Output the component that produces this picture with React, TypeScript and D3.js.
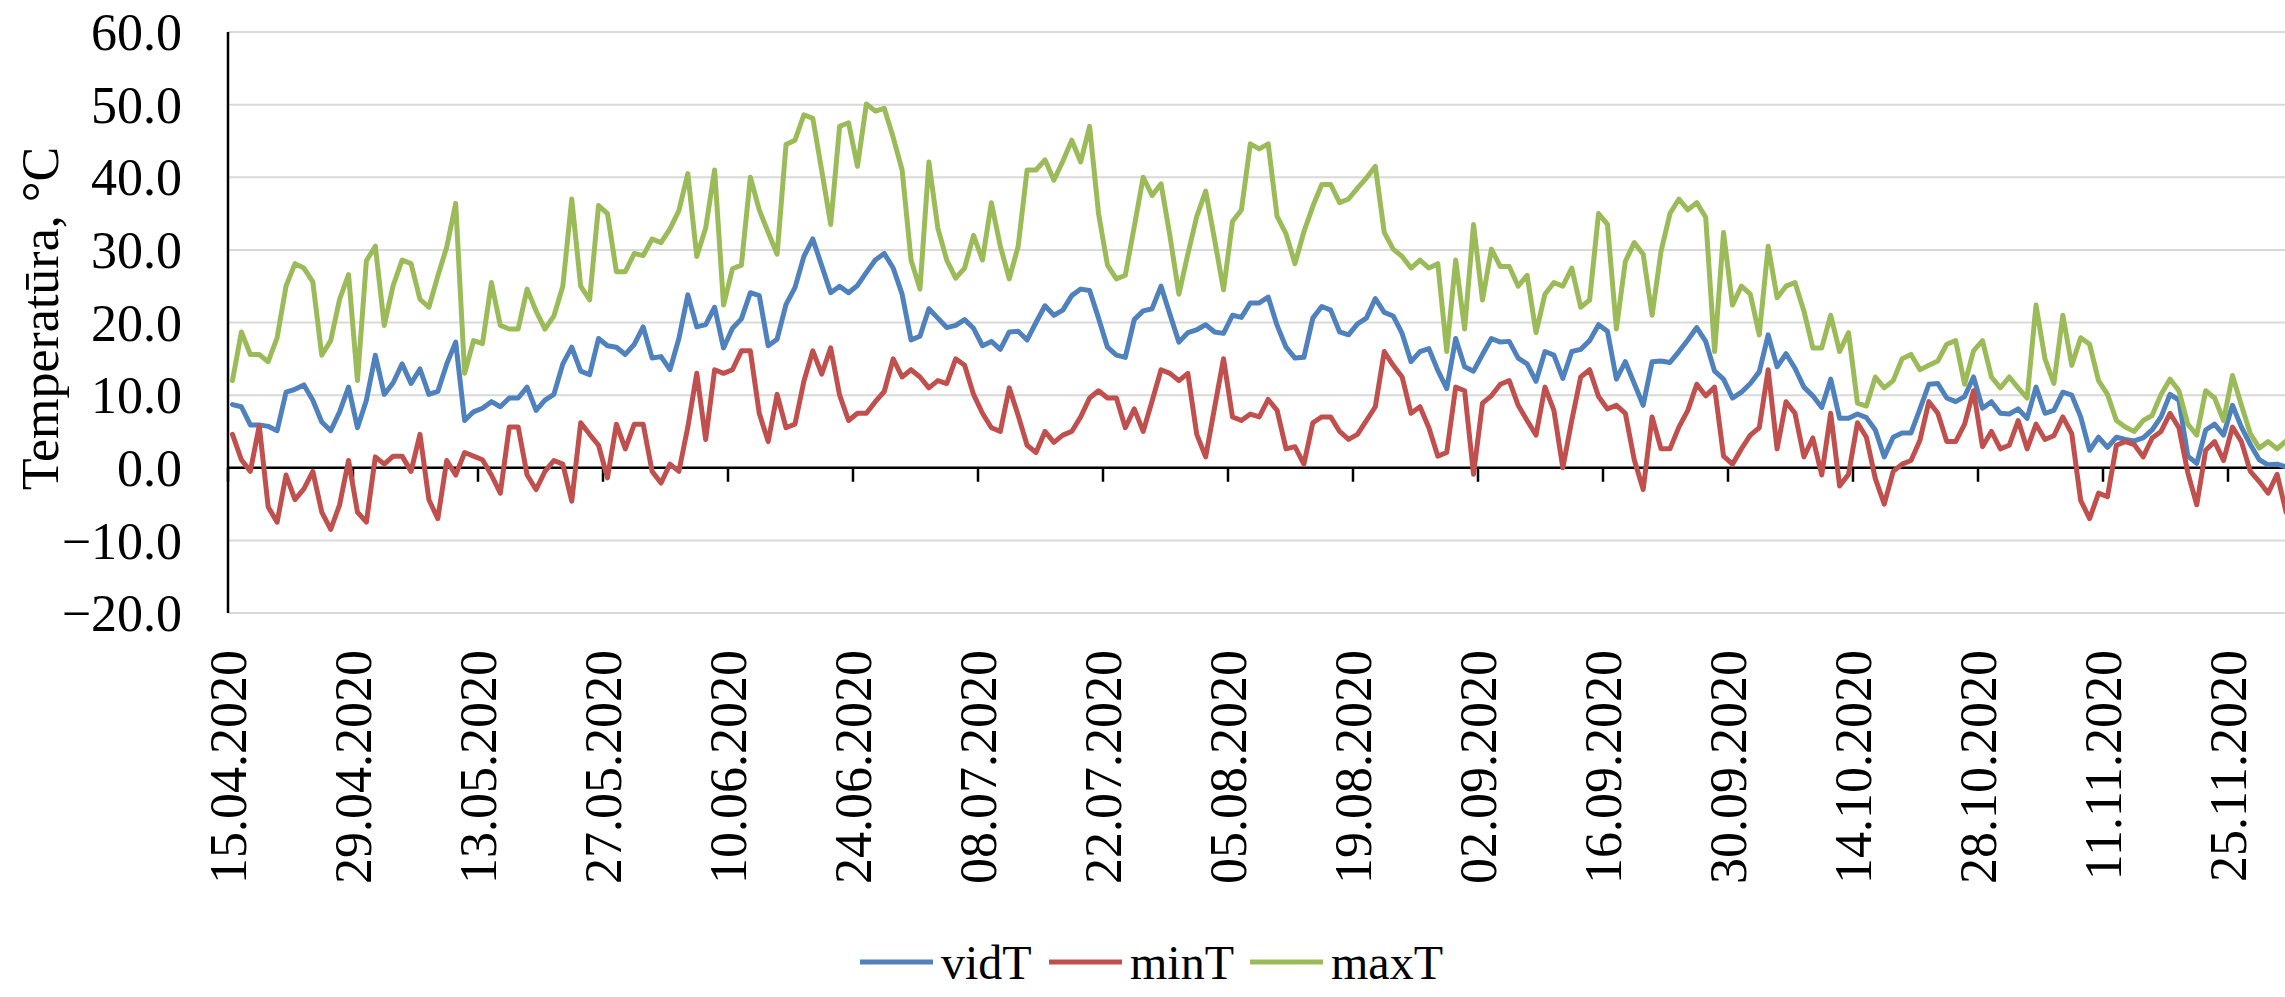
import React from "react";
import * as d3 from "d3";

// daily temperatures, one value per day from the start date
const startDate = "15.04.2020";

const tickLabels = [
  "15.04.2020", "29.04.2020", "13.05.2020", "27.05.2020", "10.06.2020", "24.06.2020",
  "08.07.2020", "22.07.2020", "05.08.2020", "19.08.2020", "02.09.2020", "16.09.2020",
  "30.09.2020", "14.10.2020", "28.10.2020", "11.11.2020", "25.11.2020",
];

const yTicks = [60, 50, 40, 30, 20, 10, 0, -10, -20];

const vidT = [
  8.7, 8.4, 5.9, 5.9, 5.7, 5.1, 10.4, 10.8, 11.4, 9.3,
  6.3, 5.1, 7.7, 11.1, 5.5, 9.3, 15.5, 10.1, 11.7, 14.3,
  11.6, 13.6, 10.1, 10.5, 14.3, 17.3, 6.5, 7.7, 8.2, 9.1,
  8.4, 9.6, 9.6, 11.1, 7.9, 9.3, 10.1, 14.3, 16.6, 13.3,
  12.8, 17.8, 16.8, 16.6, 15.6, 17.0, 19.4, 15.1, 15.3, 13.5,
  17.8, 23.8, 19.4, 19.7, 22.1, 16.5, 19.2, 20.5, 24.1, 23.7,
  16.8, 17.7, 22.5, 24.8, 29.1, 31.5, 27.8, 24.1, 25.0, 24.1,
  25.1, 26.9, 28.6, 29.5, 27.5, 23.9, 17.6, 18.1, 21.9, 20.6,
  19.3, 19.6, 20.4, 19.2, 16.8, 17.4, 16.3, 18.7, 18.8, 17.6,
  20.0, 22.3, 21.0, 21.7, 23.7, 24.6, 24.4, 20.6, 16.6, 15.5,
  15.2, 20.4, 21.6, 21.9, 25.0, 21.1, 17.3, 18.6, 19.0, 19.7,
  18.7, 18.5, 21.0, 20.7, 22.7, 22.7, 23.5, 19.6, 16.6, 15.1,
  15.2, 20.6, 22.2, 21.7, 18.7, 18.3, 19.8, 20.6, 23.3, 21.4,
  20.9, 18.5, 14.6, 16.0, 16.4, 13.4, 10.9, 17.8, 13.9, 13.3,
  15.6, 17.8, 17.3, 17.4, 15.1, 14.3, 11.9, 16.0, 15.5, 12.3,
  16.0, 16.3, 17.5, 19.7, 18.8, 12.2, 14.6, 11.6, 8.6, 14.6,
  14.7, 14.5, 16.0, 17.6, 19.3, 17.4, 13.3, 12.2, 9.6, 10.4,
  11.6, 13.2, 18.3, 13.9, 15.7, 13.7, 11.1, 9.9, 8.3, 12.2,
  6.8, 6.8, 7.4, 6.9, 5.2, 1.5, 4.2, 4.8, 4.8, 8.1,
  11.5, 11.6, 9.6, 9.1, 9.8, 12.5, 8.2, 9.1, 7.5, 7.4,
  8.1, 6.8, 11.1, 7.5, 7.9, 10.4, 10.0, 7.0, 2.4, 4.2,
  2.8, 4.2, 3.9, 3.7, 4.1, 5.2, 7.0, 10.1, 9.3, 1.6,
  0.6, 5.2, 6.0, 4.5, 8.6, 5.6, 3.2, 1.1, 0.4, 0.5,
  0.1,
];

const minT = [
  4.6, 1.1, -0.5, 5.8, -5.4, -7.5, -1.0, -4.4, -2.9, -0.5,
  -6.1, -8.5, -5.1, 1.0, -6.1, -7.5, 1.5, 0.5, 1.6, 1.6,
  -0.5, 4.6, -4.4, -7.0, 1.0, -1.0, 2.1, 1.6, 1.1, -1.0,
  -3.5, 5.6, 5.6, -1.0, -3.0, -0.5, 1.0, 0.5, -4.6, 6.2,
  4.6, 3.1, -1.4, 6.0, 2.6, 6.0, 6.0, -0.5, -2.1, 0.5,
  -0.5, 5.6, 13.0, 3.9, 13.5, 13.0, 13.5, 16.1, 16.1, 7.5,
  3.6, 10.1, 5.5, 6.0, 11.9, 16.1, 12.9, 16.5, 10.0, 6.5,
  7.5, 7.5, 9.1, 10.5, 15.0, 12.5, 13.5, 12.5, 11.0, 12.0,
  11.6, 15.0, 14.1, 10.1, 7.5, 5.5, 5.0, 11.0, 7.2, 3.1,
  2.1, 5.0, 3.5, 4.5, 5.0, 7.0, 9.6, 10.6, 9.6, 9.6,
  5.5, 8.1, 5.0, 9.2, 13.5, 13.0, 12.0, 13.0, 4.6, 1.5,
  8.3, 15.0, 7.0, 6.5, 7.4, 7.0, 9.4, 7.9, 2.6, 2.9,
  0.5, 6.2, 7.0, 7.0, 5.0, 3.9, 4.6, 6.5, 8.4, 16.0,
  14.1, 12.5, 7.5, 8.4, 5.5, 1.6, 2.1, 11.1, 10.6, -0.9,
  8.9, 9.9, 11.5, 12.0, 8.6, 6.5, 4.5, 11.1, 7.9, 0.0,
  6.5, 12.5, 13.5, 9.8, 8.1, 8.6, 7.5, 1.1, -3.0, 7.0,
  2.6, 2.6, 5.6, 7.9, 11.5, 9.9, 11.1, 1.6, 0.5, 2.6,
  4.5, 5.5, 13.5, 2.6, 9.1, 7.5, 1.5, 4.1, -1.0, 7.5,
  -2.5, -0.9, 6.2, 4.2, -1.5, -5.0, -0.5, 0.5, 1.0, 3.8,
  9.1, 7.5, 3.6, 3.6, 6.0, 10.6, 2.9, 5.0, 2.6, 3.1,
  6.5, 2.6, 6.0, 3.9, 4.4, 7.0, 4.7, -4.5, -7.0, -3.5,
  -4.0, 3.1, 3.6, 3.2, 1.5, 4.1, 5.0, 7.5, 5.5, -0.7,
  -5.1, 2.4, 3.6, 1.0, 5.6, 3.6, -0.5, -1.9, -3.5, -0.9,
  -6.1,
];

const maxT = [
  12.0, 18.7, 15.6, 15.6, 14.6, 17.9, 25.0, 28.1, 27.5, 25.6,
  15.5, 17.5, 23.2, 26.6, 12.0, 28.5, 30.5, 19.6, 25.1, 28.6,
  28.1, 23.2, 22.1, 26.4, 30.4, 36.4, 13.0, 17.5, 17.1, 25.5,
  19.6, 19.1, 19.1, 24.6, 21.6, 19.1, 20.9, 25.0, 37.0, 25.0,
  23.1, 36.1, 35.0, 27.0, 27.0, 29.5, 29.2, 31.5, 31.0, 32.9,
  35.4, 40.5, 29.1, 33.0, 41.0, 22.4, 27.4, 27.9, 40.0, 35.5,
  32.4, 29.4, 44.5, 45.1, 48.6, 48.1, 40.9, 33.5, 47.0, 47.5,
  41.5, 50.1, 49.1, 49.5, 45.5, 41.0, 28.6, 24.6, 42.1, 33.0,
  28.6, 26.1, 27.5, 32.0, 28.6, 36.5, 30.5, 26.0, 30.5, 41.0,
  41.0, 42.4, 39.6, 42.2, 45.1, 42.1, 47.0, 35.0, 27.9, 26.0,
  26.5, 33.2, 40.0, 37.5, 39.1, 31.9, 23.9, 29.4, 34.6, 38.1,
  31.4, 24.5, 33.9, 35.5, 44.6, 43.9, 44.6, 34.6, 32.2, 28.1,
  32.5, 36.0, 39.0, 39.0, 36.5, 37.0, 38.5, 39.9, 41.5, 32.4,
  30.1, 29.1, 27.5, 28.6, 27.5, 28.1, 16.0, 28.6, 19.1, 33.5,
  23.1, 30.1, 27.7, 27.7, 25.0, 26.5, 18.6, 23.9, 25.5, 25.0,
  27.5, 22.1, 23.1, 35.0, 33.5, 19.1, 28.4, 31.0, 29.4, 21.0,
  29.8, 35.0, 37.0, 35.5, 36.5, 34.5, 16.0, 32.4, 22.4, 25.0,
  23.9, 18.3, 30.5, 23.4, 25.0, 25.5, 21.6, 16.5, 16.5, 21.0,
  16.0, 18.6, 8.9, 8.5, 12.5, 11.0, 12.0, 15.0, 15.6, 13.5,
  14.1, 14.7, 17.0, 17.5, 11.5, 16.1, 17.5, 12.5, 11.0, 12.5,
  11.0, 9.6, 22.4, 15.0, 11.6, 21.0, 14.1, 17.9, 17.0, 12.0,
  10.1, 6.5, 5.6, 5.0, 6.5, 7.2, 10.1, 12.2, 10.6, 6.0,
  4.5, 10.6, 9.6, 6.5, 12.7, 8.6, 4.7, 2.7, 3.6, 2.6,
  3.7,
];

const seriesNames = ["vidT", "minT", "maxT"];
const seriesColors = ["#4F81BD", "#C0504D", "#9BBB59"];

const W = 2285;
const H = 997;
const left = 228;
const top = 32;
const bottom = 613;
const font = '"Liberation Serif", "Times New Roman", serif';

export default function App() {
  const parse = d3.utcParse("%d.%m.%Y");
  const start = parse(startDate) as Date;
  const dayPx = 125 / 14;
  const span = 240;

  const x = d3
    .scaleUtc()
    .domain([start, d3.utcDay.offset(start, span)])
    .range([left, left + span * dayPx]);
  const y = d3.scaleLinear().domain([-20, 60]).range([bottom, top]);

  // points sit in the middle of their day
  const dates = vidT.map((_, i) => d3.utcHour.offset(d3.utcDay.offset(start, i), 12));
  const line = d3
    .line<number>()
    .x((_, i) => x(dates[i]))
    .y(v => y(v));

  const series = [vidT, minT, maxT];
  const ticks = tickLabels.map(t => parse(t) as Date);

  // legend
  const legendY = 962;
  const legendX = [860, 1049, 1250];

  return (
    <svg
      width={W}
      height={H}
      style={{ position: "absolute", left: 0, top: 0, display: "block", background: "#fff" }}
    >
      <defs>
        <clipPath id="plot">
          <rect x={left} y={0} width={W - left} height={H} />
        </clipPath>
      </defs>

      {/* grid */}
      {yTicks.map(t => (
        <line key={t} x1={left} x2={W} y1={y(t)} y2={y(t)} stroke="#d9d9d9" strokeWidth={2} />
      ))}

      {/* y axis */}
      <line x1={left} x2={left} y1={top} y2={bottom} stroke="#000" strokeWidth={2.5} />
      {yTicks.map(t => (
        <text
          key={t}
          x={182}
          y={y(t)}
          dy="0.35em"
          textAnchor="end"
          fontFamily={font}
          fontSize={52}
          fill="#000"
        >
          {d3.format(".1f")(t)}
        </text>
      ))}
      <text
        transform={`translate(40 ${(top + bottom) / 2 - 4}) rotate(-90)`}
        textAnchor="middle"
        dy="0.35em"
        fontFamily={font}
        fontSize={52}
        fill="#000"
      >
        Temperatūra, °C
      </text>

      {/* x axis at zero */}
      <line x1={left} x2={W} y1={y(0)} y2={y(0)} stroke="#000" strokeWidth={2.5} />
      {ticks.map((d, i) => (
        <line key={i} x1={x(d)} x2={x(d)} y1={y(0)} y2={y(0) + 14} stroke="#000" strokeWidth={2.5} />
      ))}
      {ticks.map((d, i) => (
        <text
          key={i}
          transform={`translate(${x(d)} 650) rotate(-90)`}
          textAnchor="end"
          dy="0.35em"
          fontFamily={font}
          fontSize={52}
          fill="#000"
        >
          {tickLabels[i]}
        </text>
      ))}

      {/* lines */}
      <g clipPath="url(#plot)">
        {series.map((s, i) => (
          <path
            key={seriesNames[i]}
            d={line(s) || ""}
            fill="none"
            stroke={seriesColors[i]}
            strokeWidth={5}
            strokeLinejoin="round"
            strokeLinecap="round"
          />
        ))}
      </g>

      {/* legend */}
      {seriesNames.map((n, i) => (
        <g key={n}>
          <line
            x1={legendX[i]}
            x2={legendX[i] + 73}
            y1={legendY}
            y2={legendY}
            stroke={seriesColors[i]}
            strokeWidth={5}
          />
          <text
            x={legendX[i] + 81}
            y={legendY}
            dy="0.35em"
            fontFamily={font}
            fontSize={48}
            fill="#000"
          >
            {n}
          </text>
        </g>
      ))}
    </svg>
  );
}
